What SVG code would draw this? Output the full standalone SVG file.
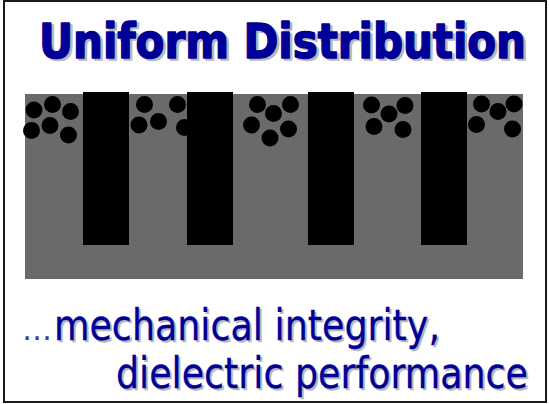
<svg xmlns="http://www.w3.org/2000/svg" xmlns:xlink="http://www.w3.org/1999/xlink" width="549" height="404" viewBox="0 0 549 404">
  <style>
    .frame { fill: #ffffff; stroke: #1a1a1a; stroke-width: 2; }
    .matrix { fill: #6a6a6a; }
    .pillar { fill: #000000; }
    .particle { fill: #000000; }
    .txt { font-family: 'DejaVu Sans', Verdana, sans-serif; }
    .title { font-size: 48px; font-weight: bold; stroke-width: 1.6px; stroke-linejoin: round; }
    .body { font-size: 42px; stroke-width: 0.3px; stroke-linejoin: round; }
    .ink { fill: #000099; stroke: #000099; }
    .shade { fill: #b8b8b8; stroke: #b8b8b8; }
  </style>
  <defs>
    <text id="title-text" class="txt title" x="39" y="57.5" textLength="487" lengthAdjust="spacingAndGlyphs">Uniform Distribution</text>
    <text id="line1-text" class="txt body" x="54" y="339.5" textLength="386" lengthAdjust="spacingAndGlyphs">mechanical integrity,</text>
    <text id="line2-text" class="txt body" x="116" y="387.5" textLength="412" lengthAdjust="spacingAndGlyphs">dielectric performance</text>
  </defs>

  <!-- slide frame -->
  <rect class="frame" x="4" y="1" width="542" height="401"/>

  <!-- heading with drop shadow -->
  <g id="title">
    <use xlink:href="#title-text" class="shade" transform="translate(2.5,2.5)"/>
    <use xlink:href="#title-text" class="ink"/>
  </g>

  <!-- cross-section: matrix, filler particles, pillars -->
  <g id="cross-section">
    <rect class="matrix" x="25" y="94" width="498" height="185"/>
    <g id="particles">
      <circle class="particle" cx="34" cy="110" r="8.5"/>
      <circle class="particle" cx="52.5" cy="104.5" r="8.5"/>
      <circle class="particle" cx="70.5" cy="111.5" r="8.5"/>
      <circle class="particle" cx="31.5" cy="130.5" r="8.5"/>
      <circle class="particle" cx="50" cy="125.5" r="8.5"/>
      <circle class="particle" cx="68.5" cy="135" r="8.5"/>

      <circle class="particle" cx="144.5" cy="104.5" r="8.5"/>
      <circle class="particle" cx="177.5" cy="104.5" r="8.5"/>
      <circle class="particle" cx="139" cy="125" r="8.5"/>
      <circle class="particle" cx="158.5" cy="121.5" r="8.5"/>
      <circle class="particle" cx="184.5" cy="127.5" r="8.5"/>

      <circle class="particle" cx="257.5" cy="104.5" r="8.5"/>
      <circle class="particle" cx="273.5" cy="113.5" r="8.5"/>
      <circle class="particle" cx="290.5" cy="104.5" r="8.5"/>
      <circle class="particle" cx="251.5" cy="125" r="8.5"/>
      <circle class="particle" cx="288.5" cy="129" r="8.5"/>
      <circle class="particle" cx="270" cy="138" r="8.5"/>

      <circle class="particle" cx="371.5" cy="105" r="8.5"/>
      <circle class="particle" cx="405" cy="105.5" r="8.5"/>
      <circle class="particle" cx="389" cy="114" r="8.5"/>
      <circle class="particle" cx="374" cy="126.5" r="8.5"/>
      <circle class="particle" cx="403" cy="129.5" r="8.5"/>

      <circle class="particle" cx="481.5" cy="104" r="8.5"/>
      <circle class="particle" cx="514" cy="104" r="8.5"/>
      <circle class="particle" cx="498" cy="111.5" r="8.5"/>
      <circle class="particle" cx="476.5" cy="124.5" r="8.5"/>
      <circle class="particle" cx="512.5" cy="129" r="8.5"/>
    </g>
    <g id="pillars">
      <rect class="pillar" x="83" y="92" width="46" height="153"/>
      <rect class="pillar" x="187" y="92" width="46" height="153"/>
      <rect class="pillar" x="308" y="92" width="46" height="153"/>
      <rect class="pillar" x="421" y="92" width="46" height="153"/>
    </g>
  </g>

  <!-- caption -->
  <g id="caption">
    <text class="txt" x="22" y="339.5" fill="#3a3aa8" font-size="30" textLength="30" lengthAdjust="spacingAndGlyphs">…</text>
    <use xlink:href="#line1-text" class="shade" transform="translate(2,2)"/>
    <use xlink:href="#line1-text" class="ink"/>
    <use xlink:href="#line2-text" class="shade" transform="translate(2,2)"/>
    <use xlink:href="#line2-text" class="ink"/>
  </g>
</svg>
